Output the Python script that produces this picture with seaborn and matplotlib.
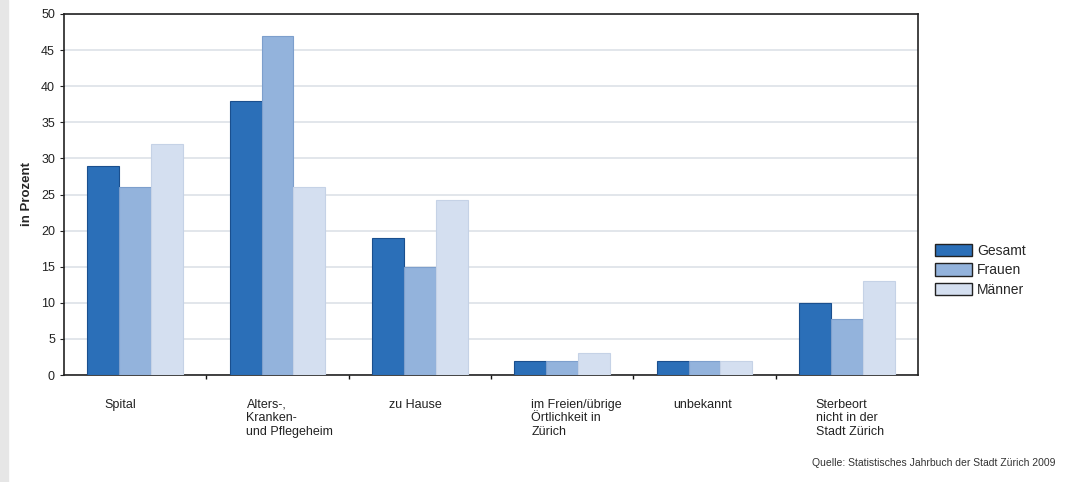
import numpy as np
import pandas as pd
import matplotlib.pyplot as plt
import matplotlib.transforms as mtrans
from matplotlib.patches import Rectangle
import seaborn as sns

categories = ["Spital", "Alters-,\nKranken-\nund Pflegeheim", "zu Hause",
              "im Freien/übrige\nÖrtlichkeit in\nZürich", "unbekannt",
              "Sterbeort\nnicht in der\nStadt Zürich"]
series = ["Gesamt", "Frauen", "Männer"]
gesamt = [29, 38, 19, 2, 2, 10]
frauen = [26, 47, 15, 2, 2, 7.8]
maenner = [32, 26, 24.2, 3, 2, 13]

colors = ["#2b6fb8", "#93b3dc", "#d4dff0"]
edges = ["#1a4f8e", "#7d9fcc", "#c5d2e6"]

df = pd.DataFrame({
    "Sterbeort": categories * 3,
    "Gruppe": sum([[s] * len(categories) for s in series], []),
    "Wert": gesamt + frauen + maenner,
})

sns.set_style("white")
plt.rcParams['font.family'] = ['Liberation Sans', 'DejaVu Sans']

fig = plt.figure(figsize=(10.69, 4.82), dpi=100)
fig.patches.append(Rectangle((0, 0), 8 / 1069, 1, transform=fig.transFigure,
                             color="#e6e6e6", zorder=0))
ax = fig.add_axes([64 / 1069, 1 - 375 / 482, (918 - 64) / 1069, (375 - 14) / 482])

sns.barplot(data=df, x="Sterbeort", y="Wert", hue="Gruppe", order=categories,
            hue_order=series, palette=colors, width=0.67, saturation=1,
            ax=ax, zorder=3)

for cont, ec in zip(ax.containers, edges):
    for bar in cont:
        bar.set_edgecolor(ec)
        bar.set_linewidth(0.8)

ax.set_ylim(0, 50)
ax.set_xlim(-0.5, len(categories) - 0.5)
ax.set_yticks(np.arange(0, 51, 5))
ax.yaxis.grid(True, color="#dde2e8", linewidth=1.2, zorder=0)
ax.tick_params(axis="y", labelsize=9, colors="#222222", length=3, width=0.8, left=True)
ax.tick_params(axis="x", length=0, labelsize=9, pad=17, labelcolor="#222222")
ax.set_xticks(np.arange(0.5, len(categories) - 0.5), minor=True)
ax.tick_params(axis="x", which="minor", bottom=True, length=3, width=1, color="#111111")

for lab in ax.get_xticklabels():
    lab.set_ha("left")
    lab.set_va("top")
    lab.set_linespacing(1.2)
    lab.set_transform(lab.get_transform() +
                      mtrans.ScaledTranslation(-31 / 100, 0, fig.dpi_scale_trans))

for sp in ax.spines.values():
    sp.set_visible(True)
    sp.set_color("#222222")
    sp.set_linewidth(1.2)

ax.set_xlabel("")
ax.set_ylabel("in Prozent", fontsize=9.5, fontweight="bold", labelpad=6)

leg = ax.legend(loc="center left", bbox_to_anchor=(1.005, 0.29), frameon=False,
                fontsize=10, handlelength=2.7, handleheight=1.0,
                handletextpad=0.35, labelspacing=0.4)
for h in leg.legend_handles:
    h.set_edgecolor("#222222")
    h.set_linewidth(1.0)

fig.text(1055 / 1069, 1 - 463 / 482, "Quelle: Statistisches Jahrbuch der Stadt Zürich 2009",
         ha="right", va="center", fontsize=7.5, color="#333333")

fig.savefig("out.png", dpi=100)
